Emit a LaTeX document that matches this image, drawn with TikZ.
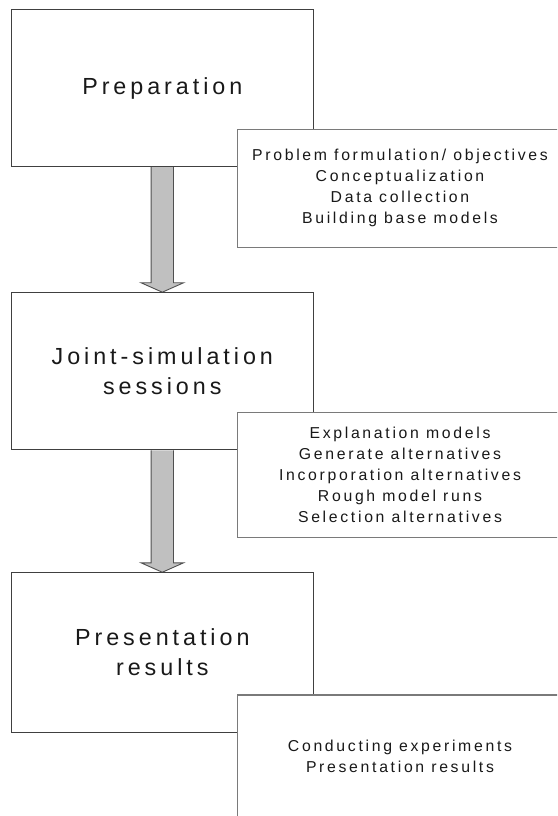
\documentclass[tikz,border=0pt]{standalone}
\usepackage{fontspec}
\setmainfont[LetterSpace=17]{Liberation Sans}
\usetikzlibrary{calc,backgrounds}
\definecolor{boxline}{HTML}{404040}
\definecolor{noteline}{HTML}{7A7A7A}
\definecolor{arrowfill}{HTML}{C0C0C0}
\definecolor{arrowline}{HTML}{505050}

% fat grey arrow from the bottom of one phase to the top of the next
\newcommand{\phasearrow}[2]{%
  \draw[arrowline, fill=arrowfill, line width=0.9pt, line join=miter]
    ($(#1.south)+(-11.2,0)$) -- ($(#2.north)+(-11.2,9.4)$) -- ($(#2.north)+(-21.2,9.4)$)
    -- (#2.north) -- ($(#2.north)+(21.2,9.4)$) -- ($(#2.north)+(11.2,9.4)$)
    -- ($(#1.south)+(11.2,0)$);}

\begin{document}
\begin{tikzpicture}[x=1pt, y=1pt,
  phase/.style={draw=boxline, line width=0.9pt, fill=white, minimum width=302.7pt,
    align=center, font=\fontsize{23.3}{30}\selectfont, text=black!90},
  note/.style={draw=noteline, line width=1.4pt, fill=white, minimum width=324.6pt,
    align=center, font=\fontsize{15.8}{21}\selectfont, text=black!90}]
  \useasboundingbox (0,0) rectangle (557,816);
  \clip (0,0) rectangle (557,816);
  \node (prep) [phase, minimum height=157.2pt] at (162.3,727.9) {Preparation};
  \node (joint)[phase, minimum height=157.3pt] at (162.3,444.7) {Joint-simulation\\sessions};
  \node (pres) [phase, minimum height=159.6pt] at (162.3,163.5) {Presentation\\results};
  \node (prepnote) [note, minimum height=118pt] at (400,627.7)
    {Problem formulation/ objectives\\Conceptualization\\Data collection\\Building base models};
  \node (jointnote)[note, minimum height=125pt] at (400,341.2)
    {Explanation models\\Generate alternatives\\Incorporation alternatives\\Rough model runs\\Selection alternatives};
  \node (presnote) [note, minimum height=123.4pt] at (400,59.3)
    {Conducting experiments\\Presentation results};
  \begin{scope}[on background layer]
    \phasearrow{prep}{joint}
    \phasearrow{joint}{pres}
  \end{scope}
\end{tikzpicture}
\end{document}
